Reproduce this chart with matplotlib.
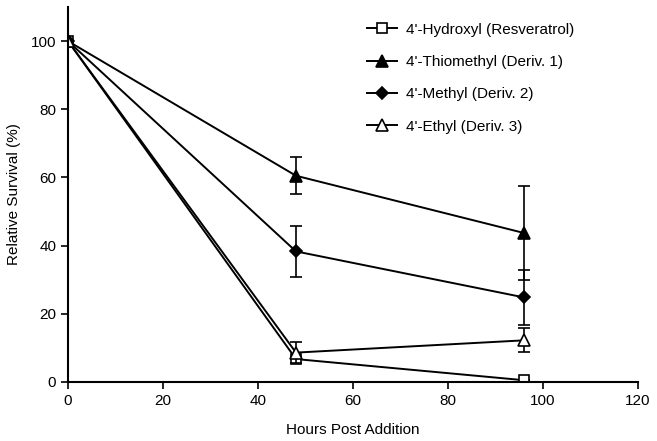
import matplotlib.pyplot as plt

plt.rcParams['font.family'] = ['Liberation Sans', 'DejaVu Sans']
plt.rcParams['font.size'] = 11

hours = [0, 48, 96]

hydroxyl = [100, 6.7, 0.5]
hydroxyl_err = [0, 0, 0]
thiomethyl = [100, 60.5, 43.7]
thiomethyl_err = [0, 5.5, 13.7]
methyl = [100, 38.3, 24.8]
methyl_err = [0, 7.4, 8.0]
ethyl = [100, 8.6, 12.2]
ethyl_err = [0, 3.0, 3.5]

labels = ["4'-Hydroxyl (Resveratrol)", "4'-Thiomethyl (Deriv. 1)",
          "4'-Methyl (Deriv. 2)", "4'-Ethyl (Deriv. 3)"]

fig = plt.figure(figsize=(6.57, 4.41), dpi=100)
ax = fig.add_axes([0.1035, 0.134, 0.8675, 0.85])

series = [
    (hydroxyl, hydroxyl_err, 's', 'white', 7),
    (thiomethyl, thiomethyl_err, '^', 'black', 8),
    (methyl, methyl_err, 'D', 'black', 6),
    (ethyl, ethyl_err, '^', 'white', 8),
]
for (vals, err, mk, fc, ms), lab in zip(series, labels):
    ax.errorbar(hours, vals, yerr=err, fmt='none', ecolor='black',
                elinewidth=1.2, capsize=4, capthick=1.2)
    ax.plot(hours, vals, color='black', lw=1.4, marker=mk, mfc=fc,
            mec='black', ms=ms, mew=1.2, label=lab)

ax.set_xlim(0, 120)
ax.set_ylim(0, 110)
ax.set_xticks(range(0, 121, 20))
ax.set_yticks(range(0, 101, 20))
ax.spines['top'].set_visible(False)
ax.spines['right'].set_visible(False)
ax.spines['left'].set_linewidth(1.5)
ax.spines['bottom'].set_linewidth(1.5)
ax.tick_params(direction='out', length=5, width=1.2, labelsize=11)

ax.set_xlabel("Hours Post Addition", fontsize=11, labelpad=11)
ax.set_ylabel("Relative Survival (%)", fontsize=11, labelpad=7)

ax.legend(loc='upper left', bbox_to_anchor=(0.5, 0.995), frameon=False,
          fontsize=11, labelspacing=1.2, handlelength=2.0,
          handletextpad=0.6)

fig.savefig('out.png', dpi=100)
